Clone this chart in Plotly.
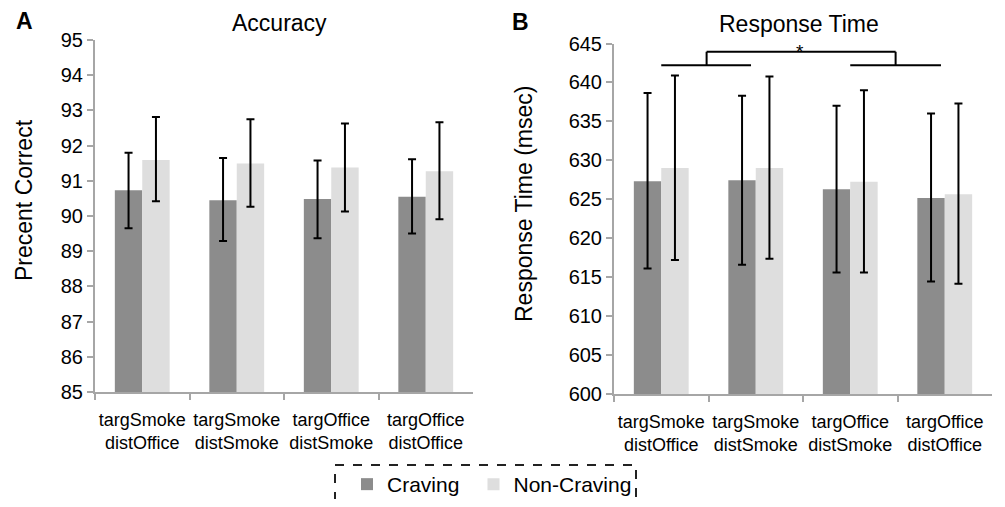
import plotly.graph_objects as go

categories = ["targSmoke<br>distOffice", "targSmoke<br>distSmoke", "targOffice<br>distSmoke", "targOffice<br>distOffice"]

acc_craving = [90.73, 90.45, 90.48, 90.55]
acc_craving_hi = [91.80, 91.65, 91.58, 91.61]
acc_craving_lo = [89.65, 89.29, 89.37, 89.50]
acc_non = [91.59, 91.49, 91.38, 91.27]
acc_non_hi = [92.81, 92.75, 92.63, 92.66]
acc_non_lo = [90.42, 90.26, 90.13, 89.91]

rt_craving = [627.3, 627.45, 626.3, 625.15]
rt_craving_hi = [638.65, 638.3, 637.0, 636.0]
rt_craving_lo = [616.1, 616.6, 615.6, 614.45]
rt_non = [629.0, 629.0, 627.25, 625.65]
rt_non_hi = [640.9, 640.75, 639.0, 637.3]
rt_non_lo = [617.2, 617.35, 615.6, 614.15]

acc_ticks = list(range(85, 96))
rt_ticks = list(range(600, 646, 5))

DARK = "#8c8c8c"
LIGHT = "#dedede"
AXIS = "#a6a6a6"
FONT = "Liberation Sans, Arial, sans-serif"

# page has an 8px body margin; size the figure so it fits the 1005x507 window
OFF = 8
W = 1005 - 2 * OFF
H = 507 - 2 * OFF


def px(x):
    return (x - OFF) / W


def py(y):
    return 1 - (y - OFF) / H


def err(vals, hi, lo):
    return dict(type="data", symmetric=False,
                array=[h - v for h, v in zip(hi, vals)],
                arrayminus=[v - l for l, v in zip(lo, vals)],
                color="black", thickness=2, width=4)


fig = go.Figure()
fig.add_trace(go.Bar(x=categories, y=acc_craving, name="Craving", marker_color=DARK,
                     marker_line_width=0,
                     error_y=err(acc_craving, acc_craving_hi, acc_craving_lo),
                     xaxis="x", yaxis="y", legend="legend"))
fig.add_trace(go.Bar(x=categories, y=acc_non, name="Non-Craving", marker_color=LIGHT,
                     marker_line_width=0,
                     error_y=err(acc_non, acc_non_hi, acc_non_lo),
                     xaxis="x", yaxis="y", legend="legend2"))
fig.add_trace(go.Bar(x=categories, y=rt_craving, name="Craving", marker_color=DARK,
                     marker_line_width=0,
                     error_y=err(rt_craving, rt_craving_hi, rt_craving_lo),
                     xaxis="x2", yaxis="y2", showlegend=False))
fig.add_trace(go.Bar(x=categories, y=rt_non, name="Non-Craving", marker_color=LIGHT,
                     marker_line_width=0,
                     error_y=err(rt_non, rt_non_hi, rt_non_lo),
                     xaxis="x2", yaxis="y2", showlegend=False))

xcommon = dict(type="category", showline=True, linecolor=AXIS, linewidth=2, automargin=False,
               ticks="outside", tickson="boundaries", ticklen=6, tickcolor=AXIS, tickwidth=2,
               ticklabelstandoff=10, tickangle=0,
               tickfont=dict(size=18, color="black", family=FONT), showgrid=False)
ycommon = dict(showline=True, linecolor=AXIS, linewidth=2, ticks="outside", ticklen=6,
               automargin=False,
               tickcolor=AXIS, tickwidth=2, showgrid=False, zeroline=False,
               tickfont=dict(size=20, color="black", family=FONT))

legend_common = dict(orientation="h", xanchor="left", yanchor="middle",
                     font=dict(size=21, color="black", family=FONT),
                     bgcolor="rgba(0,0,0,0)", borderwidth=0)

fig.update_layout(
    template="none",
    width=W, height=H,
    margin=dict(l=0, r=0, t=0, b=0, autoexpand=False),
    paper_bgcolor="white", plot_bgcolor="white",
    barmode="group", bargap=0.42, bargroupgap=0,
    font=dict(family=FONT, color="black"),
    xaxis=dict(domain=[px(95), px(473)], anchor="y", **xcommon),
    yaxis=dict(domain=[py(392), py(40)], anchor="x", range=[85, 95],
               tickvals=acc_ticks, **ycommon),
    xaxis2=dict(domain=[px(614), px(992)], anchor="y2", **xcommon),
    yaxis2=dict(domain=[py(394), py(43.5)], anchor="x2", range=[600, 645],
                tickvals=rt_ticks, **ycommon),
    showlegend=True,
    legend=dict(x=px(366 - 19), y=py(484.5), **legend_common),
    legend2=dict(x=px(492.5 - 19), y=py(484.5), **legend_common),
)

annotations = [
    dict(text="Accuracy", x=px(279), y=py(23)),
    dict(text="Response Time", x=px(799), y=py(24)),
    dict(text="<b>A</b>", x=px(24), y=py(21), font=dict(size=23)),
    dict(text="<b>B</b>", x=px(520), y=py(22), font=dict(size=23)),
    dict(text="Precent Correct", x=px(24), y=py(200), textangle=-90, font=dict(size=23)),
    dict(text="Response Time (msec)", x=px(524), y=py(204), textangle=-90, font=dict(size=23)),
]
for a in annotations:
    a.update(xref="paper", yref="paper", showarrow=False, xanchor="center", yanchor="middle")
    a.setdefault("font", dict(size=23))
annotations.append(dict(text="*", x=1.47, y=644.0, xref="x2", yref="y2", showarrow=False,
                        xanchor="center", yanchor="middle", font=dict(size=19)))
fig.update_layout(annotations=annotations)

# significance bracket (positions in category units)
low_y = 642.2
high_y = 643.95
bracket = [
    (0.0, low_y, 0.95, low_y),
    (2.0, low_y, 2.96, low_y),
    (0.48, low_y, 0.48, high_y),
    (2.48, low_y, 2.48, high_y),
    (0.48, high_y, 2.48, high_y),
]
shapes = [dict(type="line", xref="x2", yref="y2", x0=a, y0=b, x1=c, y1=d,
               line=dict(color="black", width=2)) for a, b, c, d in bracket]
shapes.append(dict(type="rect", xref="paper", yref="paper", x0=px(335), x1=px(636),
                   y0=py(520), y1=py(465), line=dict(color="#222", width=2, dash="dash")))
fig.update_layout(shapes=shapes)

fig.write_html("out.html")
